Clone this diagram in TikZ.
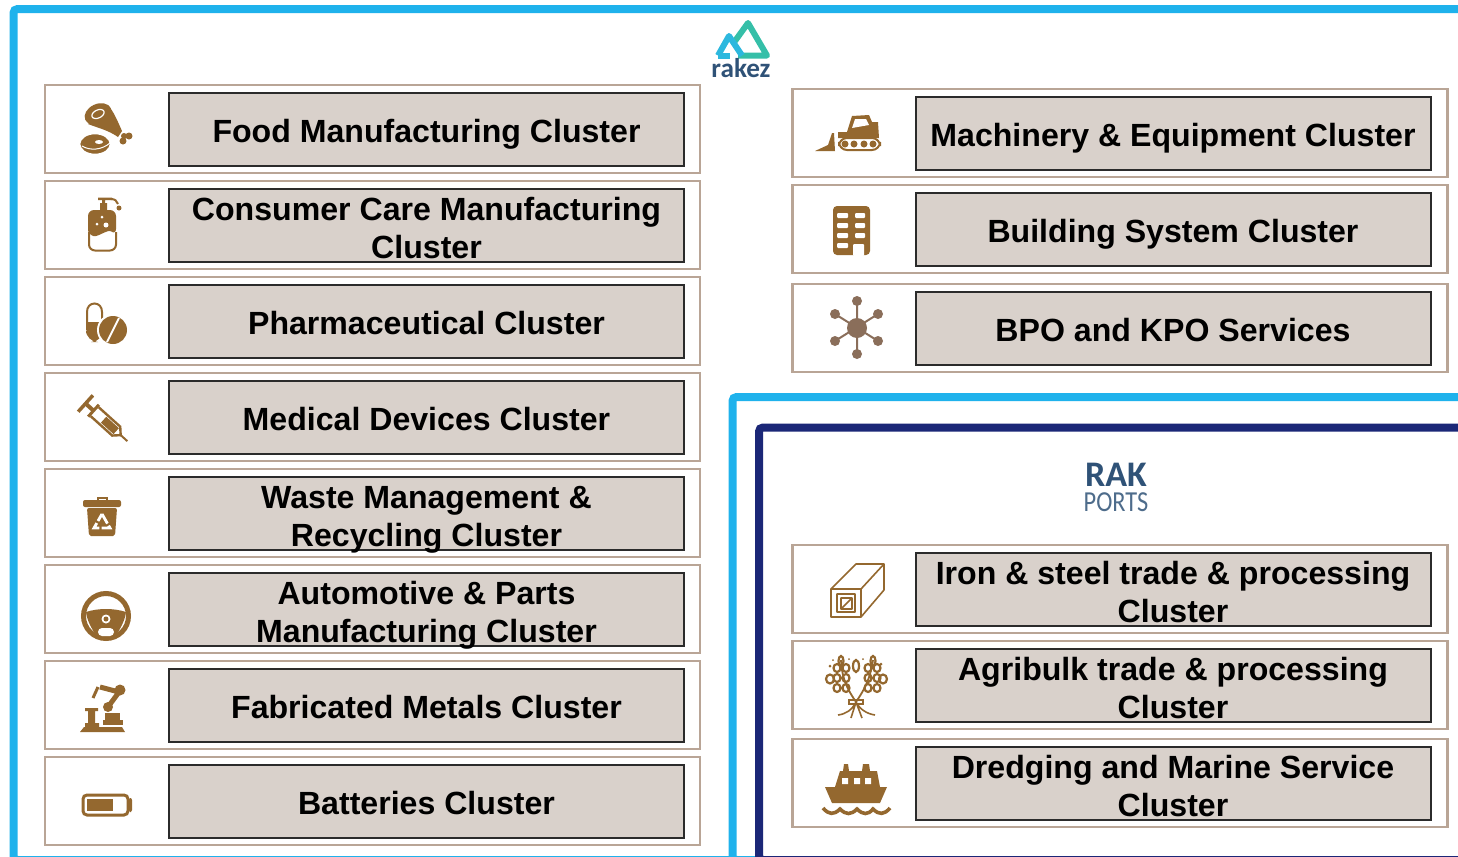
\documentclass[tikz,border=0pt]{standalone}
\usepackage{fontspec}
\setmainfont{Liberation Sans}
\newfontfamily\logofont{Carlito}
\newfontfamily\logonarrow[FakeStretch=0.84]{Carlito}
\usetikzlibrary{positioning}
\definecolor{skyline}{HTML}{1FB2EC}
\definecolor{navyline}{HTML}{1B2777}
\definecolor{rowline}{HTML}{B9A596}
\definecolor{labelfill}{HTML}{D9D1CB}
\definecolor{labelline}{HTML}{2B2B2B}
\definecolor{iconbrown}{HTML}{94682F}
\definecolor{iconhub}{HTML}{8A6E5A}
\definecolor{logoblue}{HTML}{2F5277}
\definecolor{logosky}{HTML}{2DB8DE}
\definecolor{logoteal}{HTML}{35BFA8}
\tikzset{
  rowbox/.style={draw=rowline,line width=1.2pt,fill=white,minimum width=327.5pt,minimum height=44pt,inner sep=0pt,outer sep=0pt},
  labelbox/.style={draw=labelline,line width=1pt,fill=labelfill,minimum width=257.5pt,minimum height=36.5pt,inner sep=0pt,outer sep=0pt,
    align=center,text depth=0pt,font=\fontsize{16.05}{19.25}\selectfont\bfseries},
  oneline/.style={text height=13.5pt},
  twoline/.style={text height=33.9pt},
  iconline/.style={draw=iconbrown,line width=1pt,fill=none},
}
\begin{document}
\begin{tikzpicture}[x=0.5pt,y=-0.5pt]
    \useasboundingbox (0,0) rectangle (1458,857);
    % frames
    \draw[skyline,line width=4pt,rounded corners=2pt] (13.5,9) rectangle (1480,860);
    \draw[skyline,line width=4pt,rounded corners=2pt,fill=white] (732.5,397) rectangle (1480,860);
    \draw[navyline,line width=4pt,rounded corners=2pt,fill=white] (759,427.5) rectangle (1480,860);

    % left column
    \node[rowbox] (Food) at (372.5,129) {};
    \node[labelbox, oneline, right=62pt of Food.west] (FoodL) {Food Manufacturing Cluster};
    \node[rowbox, below=4pt of Food] (Care) {};
    \node[labelbox, twoline, right=62pt of Care.west] (CareL) {Consumer Care Manufacturing\\Cluster};
    \node[rowbox, below=4pt of Care] (Pharma) {};
    \node[labelbox, oneline, right=62pt of Pharma.west] (PharmaL) {Pharmaceutical Cluster};
    \node[rowbox, below=4pt of Pharma] (Medical) {};
    \node[labelbox, oneline, right=62pt of Medical.west] (MedicalL) {Medical Devices Cluster};
    \node[rowbox, below=4pt of Medical] (Waste) {};
    \node[labelbox, twoline, right=62pt of Waste.west] (WasteL) {Waste Management \&\\Recycling Cluster};
    \node[rowbox, below=4pt of Waste] (Auto) {};
    \node[labelbox, twoline, right=62pt of Auto.west] (AutoL) {Automotive \& Parts\\Manufacturing Cluster};
    \node[rowbox, below=4pt of Auto] (Metal) {};
    \node[labelbox, oneline, right=62pt of Metal.west] (MetalL) {Fabricated Metals Cluster};
    \node[rowbox, below=4pt of Metal] (Battery) {};
    \node[labelbox, oneline, right=62pt of Battery.west] (BatteryL) {Batteries Cluster};

    % right column
    \node[rowbox] (Machine) at (1120,133) {};
    \node[labelbox, oneline, right=61.5pt of Machine.west] (MachineL) {Machinery \& Equipment Cluster};
    \node[rowbox, below=4pt of Machine] (Building) {};
    \node[labelbox, oneline, right=61.5pt of Building.west] (BuildingL) {Building System Cluster};
    \node[rowbox, below=5.5pt of Building] (BPO) {};
    \node[labelbox, oneline, right=61.5pt of BPO.west] (BPOL) {BPO and KPO Services};
    \node[rowbox] (Iron) at (1120,589) {};
    \node[labelbox, twoline, right=61.5pt of Iron.west] (IronL) {Iron \& steel trade \& processing\\Cluster};
    \node[rowbox, below=4pt of Iron] (Agri) {};
    \node[labelbox, twoline, right=61.5pt of Agri.west] (AgriL) {Agribulk trade \& processing\\Cluster};
    \node[rowbox, below=5pt of Agri] (Dredge) {};
    \node[labelbox, twoline, right=61.5pt of Dredge.west] (DredgeL) {Dredging and Marine Service\\Cluster};

    % logos
    \draw[logoteal,line width=3pt,line join=round] (735,41) -- (748,23) -- (767,55.5) -- (738,55.5);
    \draw[logosky,line width=3pt,line join=round] (718,55.5) -- (729,36) -- (742,55.5);
    \draw[logosky,line width=3pt] (718,55.5) -- (730,55.5);
    \node[text=logoblue,font=\logofont\fontsize{13.6}{13.6}\selectfont\bfseries,inner sep=0pt] (RakezLogo) at (741,68) {rakez};
    \node[text=logoblue,font=\logofont\fontsize{18}{18}\selectfont\bfseries,inner sep=0pt] (RakLogo) at (1116,475) {RAK};
    \node[text=logoblue!85,font=\logonarrow\fontsize{14.5}{14.5}\selectfont,inner sep=0pt] (PortsLogo) at (1116,502) {PORTS};

    % food
    \fill[iconbrown] (88,124) .. controls (98,128) and (108,130) .. (118,137) -- (122,131) .. controls (118,122) and (114,112) .. (108,105) -- cycle;
    \fill[iconbrown,rotate around={25:(98,114)}] (98,114) ellipse (14 and 10);
    \draw[white,line width=.6pt,rotate around={25:(98,114)}] (98,114) ellipse (6.5 and 4);
    \fill[iconbrown] (124,136) circle (3) (129,136) circle (3.5) (123,141) circle (3.5);
    \draw[white,line width=.8pt,fill=iconbrown] (95,144) ellipse (15.5 and 10.5);
    \fill[white] (99,142) ellipse (4 and 2);
    \draw[white,line width=.5pt] (82,146) .. controls (90,151) and (102,150) .. (110,143);
    % bottle
    \draw[iconline,rounded corners=3pt] (89,232) -- (89,250.5) -- (116,250.5) -- (116,232);
    \fill[iconbrown,rounded corners=3pt] (88,235) -- (88,210) -- (116,210) -- (116,235) .. controls (108,229) and (98,237) .. cycle;
    \fill[iconbrown] (100,203) rectangle (107,211) (102,198) rectangle (105,204) (98,197.5) rectangle (112,200);
    \draw[iconbrown,line width=1pt] (111,199) .. controls (115,199) and (117,201) .. (118,204);
    \fill[iconbrown] (119,208) circle (2.5);
    \fill[white] (97,224) circle (1.5) (106,225) circle (2.5) (102,217) circle (1.5);
    % pills
    \draw[iconline,line width=1pt] (87,322) -- (87,312) .. controls (87,307) and (90,303.5) .. (94.5,303.5) .. controls (99,303.5) and (102,307) .. (102,312) -- (102,322);
    \fill[iconbrown,rounded corners=6pt] (86,322) -- (86,342) -- (103,342) -- (103,322) -- cycle;
    \fill[iconbrown] (86,322) rectangle (103,330);
    \fill[white] (113,330) circle (16);
    \fill[iconbrown] (113,330) circle (14);
    \draw[white,line width=1pt] (107,342) -- (119,318);
    % syringe
    \begin{scope}[shift={(85,403)},rotate=-42]
      \fill[iconbrown] (-1,-11) rectangle (2.5,11);
      \fill[iconbrown] (2,-2) rectangle (12,2);
      \fill[iconbrown] (10,-8) rectangle (13,8);
      \draw[iconline,line width=1.2pt] (13,-6) -- (42,-6) -- (48,0) -- (42,6) -- (13,6);
      \fill[iconbrown] (25,-4) rectangle (42,4);
      \fill[iconbrown] (47,-1) rectangle (57,1);
    \end{scope}
    % bin
    \draw[iconline] (97.5,500) -- (97.5,498) -- (107,498) -- (107,500);
    \fill[iconbrown,rounded corners=1pt] (83,500) rectangle (121,507);
    \fill[iconbrown,rounded corners=1pt] (87,508) -- (117,508) -- (115,536) -- (89,536) -- cycle;
    \draw[white,line width=1.4pt,dash pattern=on 5.5pt off 1.2pt] (102,514) -- (110,528) -- (94,528) -- cycle;
    % wheel
    \draw[iconbrown,line width=2.5pt] (106,616) circle (22.5);
    \fill[iconbrown] (86,612) .. controls (98,608) and (114,608) .. (126,612) .. controls (125,622) and (118,632) .. (114,639) -- (98,639) .. controls (94,632) and (87,622) .. cycle;
    \fill[white] (106,619) circle (4.5);
    \fill[iconbrown] (106,619) circle (2.5);
    \fill[white,rounded corners=2pt] (98,628) rectangle (114,636);
    % robot
    \fill[iconbrown] (84,727) -- (122,727) -- (125,732) -- (80,732) -- cycle;
    \fill[iconbrown] (85,708) rectangle (98,711) (88,711) rectangle (95,725) (85,723) rectangle (99,727);
    \fill[iconbrown] (103,720) rectangle (123,725);
    \fill[iconbrown] (105,713) rectangle (120,720);
    \fill[iconbrown] (108,707) circle (5);
    \draw[iconbrown,line width=2.5pt] (108,707) -- (119,692) -- (100,687);
    \fill[iconbrown] (120,690) circle (5.5);
    \draw[iconbrown,line width=1.5pt] (98,687) -- (93,698);
    % battery
    \draw[iconbrown,line width=1.5pt,rounded corners=2pt] (83,795) rectangle (128,815);
    \fill[iconbrown] (87,799) rectangle (113,811);
    \fill[iconbrown,rounded corners=1pt] (129,798) rectangle (132,812);

    % bulldozer
    \fill[iconbrown] (847,132) -- (852,116) -- (869,115) -- (872,122) -- (878,122) -- (879,138) -- (838,138) -- (838,132) -- cycle;
    \fill[white] (852,128) -- (855,119) -- (866,119) -- (869,125) -- cycle;
    \draw[iconbrown,line width=1pt,rounded corners=4pt,fill=white] (839,138) rectangle (880,150);
    \fill[iconbrown] (845,144) circle (3.5) (854,144) circle (3.5) (864,144) circle (3.5) (873,144) circle (3.5);
    \fill[iconbrown] (815,151) -- (828,145) -- (832,133) -- (834,133) -- (835,151) -- cycle;
    % building
    \fill[iconbrown,rounded corners=2pt] (833,206) rectangle (870,255);
    \fill[white,rounded corners=.5pt] (837,213) rectangle (848,218) (855,213) rectangle (865,218) (837,223) rectangle (848,228) (855,223) rectangle (865,228) (837,233) rectangle (848,238) (855,233) rectangle (865,238) (837,243) rectangle (848,248) (853,244) rectangle (864,256);
    % hub
    \fill[iconhub] (857,328) circle (10) (857,301) circle (5) (857,354) circle (5) (835,314) circle (5) (878,314) circle (5) (835,341) circle (5) (878,341) circle (5);
    \draw[iconhub,line width=1pt] (857,301) -- (857,354) (835,314) -- (878,341) (835,341) -- (878,314);
    % hollow block
    \draw[iconline,line width=.8pt,line join=round] (831,589) rectangle (861,617) (837,594) rectangle (855,612) (841,598) rectangle (852,609) (841,609) -- (852,598);
    \draw[iconline,line width=.8pt,line join=round] (831,589) -- (856,564) -- (884,564) -- (884,590) -- (861,617) (861,589) -- (884,564);
    % wheat
    \draw[iconline,line width=.9pt] (856,702) .. controls (848,690) and (842,680) .. (841,660) (856,702) .. controls (864,690) and (870,680) .. (873,660);
    \draw[iconline,line width=.8pt] (856,702) .. controls (852,710) and (846,714) .. (838,715) (856,702) .. controls (860,710) and (868,714) .. (875,715) (856,702) -- (862,718) (856,702) -- (851,718) (849,700) rectangle (863,704);
    \foreach \leafy in {668,678,688}{
      \draw[iconline,line width=1.1pt] (837,\leafy) ellipse (3.5 and 4) (846,\leafy) ellipse (3.5 and 4) (868,\leafy) ellipse (3.5 and 4) (877,\leafy) ellipse (3.5 and 4);
    }
    \draw[iconline,line width=1.1pt] (841,661) ellipse (2.5 and 5) (873,661) ellipse (2.5 and 5) (856,666) ellipse (3 and 6) (830,679) ellipse (4 and 4.5) (883,679) ellipse (4 and 4.5);
    \fill[iconbrown] (830,666) circle (1.5) (833,660) circle (1) (849,659) circle (1) (863,659) circle (1) (881,664) circle (1.5);
    % ship
    \fill[iconbrown] (825,787) -- (835,787) -- (840,771) -- (843,771) -- (844,764) -- (848,764) -- (849,771) -- (862,771) -- (863,764) -- (869,764) -- (870,771) -- (877,771) -- (880,787) -- (887,787) -- (880,803) -- (832,803) -- cycle;
    \fill[white] (842,778) rectangle (848,784) (854,778) rectangle (860,784) (865,778) rectangle (871,784);
    \draw[iconbrown,line width=1.8pt] (823,808) .. controls (829,815) and (834,815) .. (840,809) .. controls (846,815) and (851,815) .. (857,809) .. controls (863,815) and (868,815) .. (873,809) .. controls (879,815) and (884,815) .. (890,808);
\end{tikzpicture}
\end{document}
